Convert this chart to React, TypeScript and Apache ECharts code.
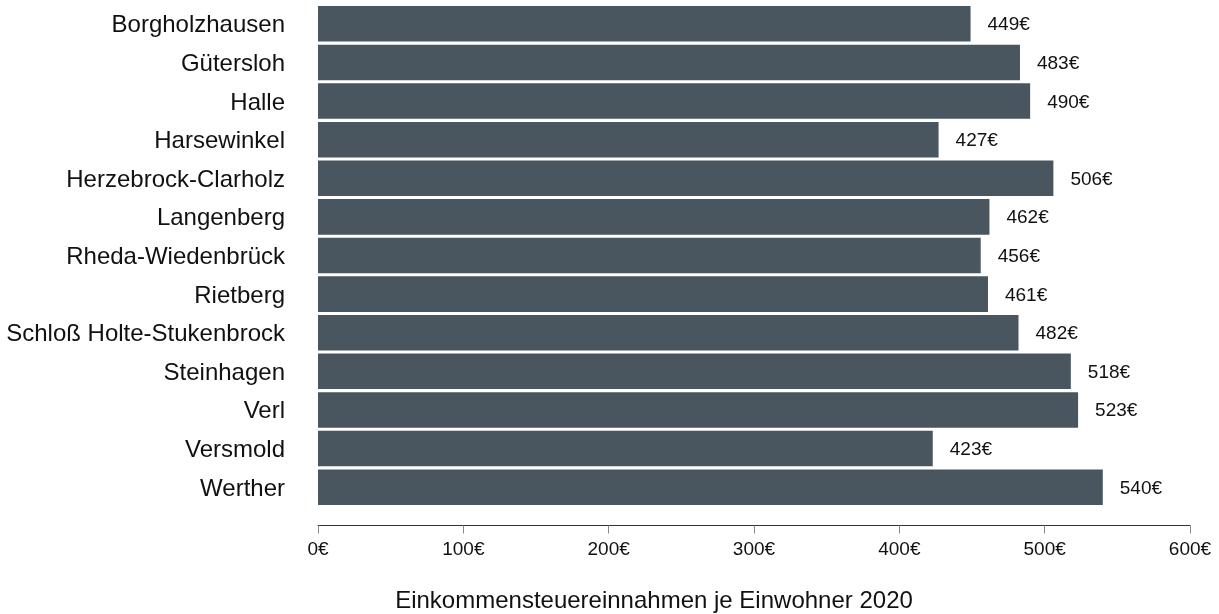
import React, { useEffect, useRef } from "react";
import * as echarts from "echarts";

const categories = [
  "Borgholzhausen",
  "Gütersloh",
  "Halle",
  "Harsewinkel",
  "Herzebrock-Clarholz",
  "Langenberg",
  "Rheda-Wiedenbrück",
  "Rietberg",
  "Schloß Holte-Stukenbrock",
  "Steinhagen",
  "Verl",
  "Versmold",
  "Werther",
];
const values = [449, 483, 490, 427, 506, 462, 456, 461, 482, 518, 523, 423, 540];
const axisTitle = "Einkommensteuereinnahmen je Einwohner 2020";

export default function App() {
  const ref = useRef<HTMLDivElement>(null);
  useEffect(() => {
    const chart = echarts.init(ref.current!, null, { renderer: "svg" });
    chart.setOption({
      animation: false,
      textStyle: { fontFamily: "Liberation Sans, Arial, sans-serif" },
      grid: { left: 318, right: 29, top: 4.5, bottom: 107.5, containLabel: false },
      title: {
        text: axisTitle,
        left: 654,
        top: 587,
        padding: 0,
        textAlign: "center",
        textStyle: { fontSize: 24, fontWeight: "normal", color: "#111", fontFamily: "Liberation Sans, Arial, sans-serif" },
      },
      xAxis: {
        type: "value",
        min: 0,
        max: 600,
        interval: 100,
        offset: 19,
        axisLine: { show: true, lineStyle: { color: "#333", width: 1 } },
        axisTick: { show: true, length: 8, lineStyle: { color: "#888" } },
        splitLine: { show: false },
        axisLabel: {
          formatter: (v: number) => v + "€",
          fontSize: 19,
          color: "#111",
          margin: 13,
        },
      },
      yAxis: {
        type: "category",
        data: categories,
        inverse: true,
        axisLine: { show: false },
        axisTick: { show: false },
        axisLabel: { fontSize: 24, color: "#111", margin: 33 },
      },
      series: [
        {
          type: "bar",
          data: values,
          barCategoryGap: "8%",
          itemStyle: { color: "#4a565f" },
          label: {
            show: true,
            position: "right",
            distance: 17,
            formatter: (p: any) => p.value + "€",
            fontSize: 19,
            color: "#111",
          },
        },
      ],
    });
    return () => chart.dispose();
  }, []);
  return <div ref={ref} style={{ position: "fixed", left: 0, top: 0, width: 1219, height: 614 }} />;
}
